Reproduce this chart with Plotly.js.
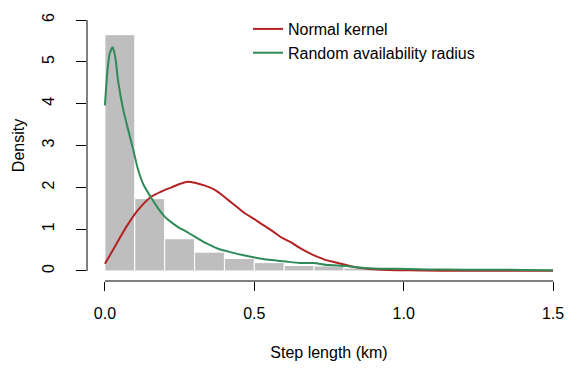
<!DOCTYPE html>
<html>
<head>
<meta charset="utf-8">
<script src="https://cdn.plot.ly/plotly-3.0.1.min.js"></script>
<style>html,body{margin:0;padding:0;background:#fff;}#chart{width:581px;height:388px;}</style>
</head>
<body>
<div id="chart"></div>
<script>
// Histogram of observed step lengths (bin starts, width 0.1 km)
const binStarts = [0.0,0.1,0.2,0.3,0.4,0.5,0.6,0.7,0.8,0.9,1.0,1.1,1.2,1.3,1.4];
const binWidth = 0.1;
const binDensity = [5.65,1.73,0.77,0.45,0.30,0.20,0.13,0.12,0.07,0.04,0.03,0.02,0.015,0.01,0.01];

// Normal kernel density curve
const normalX = [0,0.033,0.072,0.111,0.156,0.189,0.223,0.25,0.273,0.301,0.335,0.368,0.39,0.412,0.44,0.468,0.5,0.529,0.56,0.591,0.619,0.652,0.686,0.708,0.741,0.77,0.797,0.83,0.864,0.898,0.975,1.065,1.2,1.35,1.5];
const normalY = [0.17,0.58,1.06,1.46,1.78,1.90,2.00,2.08,2.13,2.11,2.04,1.94,1.83,1.70,1.54,1.38,1.24,1.10,0.96,0.80,0.70,0.55,0.42,0.35,0.26,0.21,0.16,0.10,0.065,0.04,0.02,0.01,0.006,0.004,0.003];

// Random availability radius density curve
const randomX = [0,0.008,0.016,0.026,0.035,0.044,0.06,0.078,0.095,0.111,0.13,0.156,0.18,0.2,0.225,0.245,0.27,0.301,0.34,0.379,0.42,0.468,0.51,0.557,0.6,0.652,0.697,0.752,0.808,0.85,0.9,0.975,1.05,1.1,1.2,1.3,1.4,1.5];
const randomY = [3.96,4.75,5.2,5.35,5.1,4.55,3.9,3.37,2.89,2.42,2.05,1.74,1.48,1.30,1.15,1.05,0.95,0.82,0.66,0.53,0.45,0.37,0.31,0.26,0.23,0.19,0.19,0.14,0.12,0.08,0.06,0.05,0.04,0.035,0.03,0.03,0.025,0.02];

// Axis ticks
const xTicks = [0, 0.5, 1, 1.5];
const xTickText = ["0.0", "0.5", "1.0", "1.5"];
const yTicks = [0, 1, 2, 3, 4, 5, 6];
const yTickText = ["0", "1", "2", "3", "4", "5", "6"];

const FONT = "Liberation Sans, Arial, Helvetica, sans-serif";

const traces = [
  {
    type: "bar",
    x: binStarts.map(s => s + binWidth / 2),
    y: binDensity,
    width: binStarts.map(() => binWidth),
    marker: {color: "#bebebe", line: {color: "#ffffff", width: 1}},
    showlegend: false,
    hoverinfo: "skip"
  },
  {
    type: "scatter", mode: "lines",
    x: normalX, y: normalY,
    name: "Normal kernel",
    line: {color: "#B22222", width: 2, shape: "spline", smoothing: 0.6}
  },
  {
    type: "scatter", mode: "lines",
    x: randomX, y: randomY,
    name: "Random availability radius",
    line: {color: "#2E8B57", width: 2, shape: "spline", smoothing: 0.6}
  }
];

const layout = {
  width: 581, height: 388,
  margin: {l: 87, r: 10, t: 10, b: 107, pad: 0},
  paper_bgcolor: "#ffffff", plot_bgcolor: "#ffffff",
  font: {family: FONT, size: 16, color: "#000000"},
  bargap: 0,
  showlegend: true,
  legend: {
    x: (248 - 87) / 484, xanchor: "left",
    y: 1 - (12 - 10) / 271, yanchor: "top",
    bgcolor: "rgba(0,0,0,0)", borderwidth: 0,
    font: {family: FONT, size: 16, color: "#000000"},
    tracegroupgap: 0
  },
  xaxis: {
    range: [-0.06, 1.56], autorange: false,
    tickmode: "array", tickvals: xTicks, ticktext: xTickText,
    ticks: "outside", ticklen: 9, tickwidth: 1, tickcolor: "#000000",
    showline: false, showgrid: false, zeroline: false,
    ticklabelstandoff: 9,
    tickfont: {family: FONT, size: 16, color: "#000000"},
    title: {text: "Step length (km)", font: {family: FONT, size: 16, color: "#000000"}, standoff: 25},
    automargin: false
  },
  yaxis: {
    range: [-0.24, 6.24], autorange: false,
    tickmode: "array", tickvals: yTicks, ticktext: yTickText,
    ticks: "outside", ticklen: 10, tickwidth: 1, tickcolor: "#000000",
    tickangle: -90,
    showline: false, showgrid: false, zeroline: false,
    ticklabelstandoff: 16,
    tickfont: {family: FONT, size: 16, color: "#000000"},
    title: {text: "Density", font: {family: FONT, size: 16, color: "#000000"}, standoff: 10},
    automargin: false
  },
  shapes: [
    {type: "line", xref: "x", yref: "paper", x0: xTicks[0], x1: xTicks[xTicks.length - 1], y0: 0, y1: 0,
     line: {color: "#000000", width: 1}},
    {type: "line", xref: "paper", yref: "y", x0: 0, x1: 0, y0: yTicks[0], y1: yTicks[yTicks.length - 1],
     line: {color: "#000000", width: 1}}
  ]
};

Plotly.newPlot("chart", traces, layout, {displayModeBar: false, staticPlot: true});
</script>
</body>
</html>
